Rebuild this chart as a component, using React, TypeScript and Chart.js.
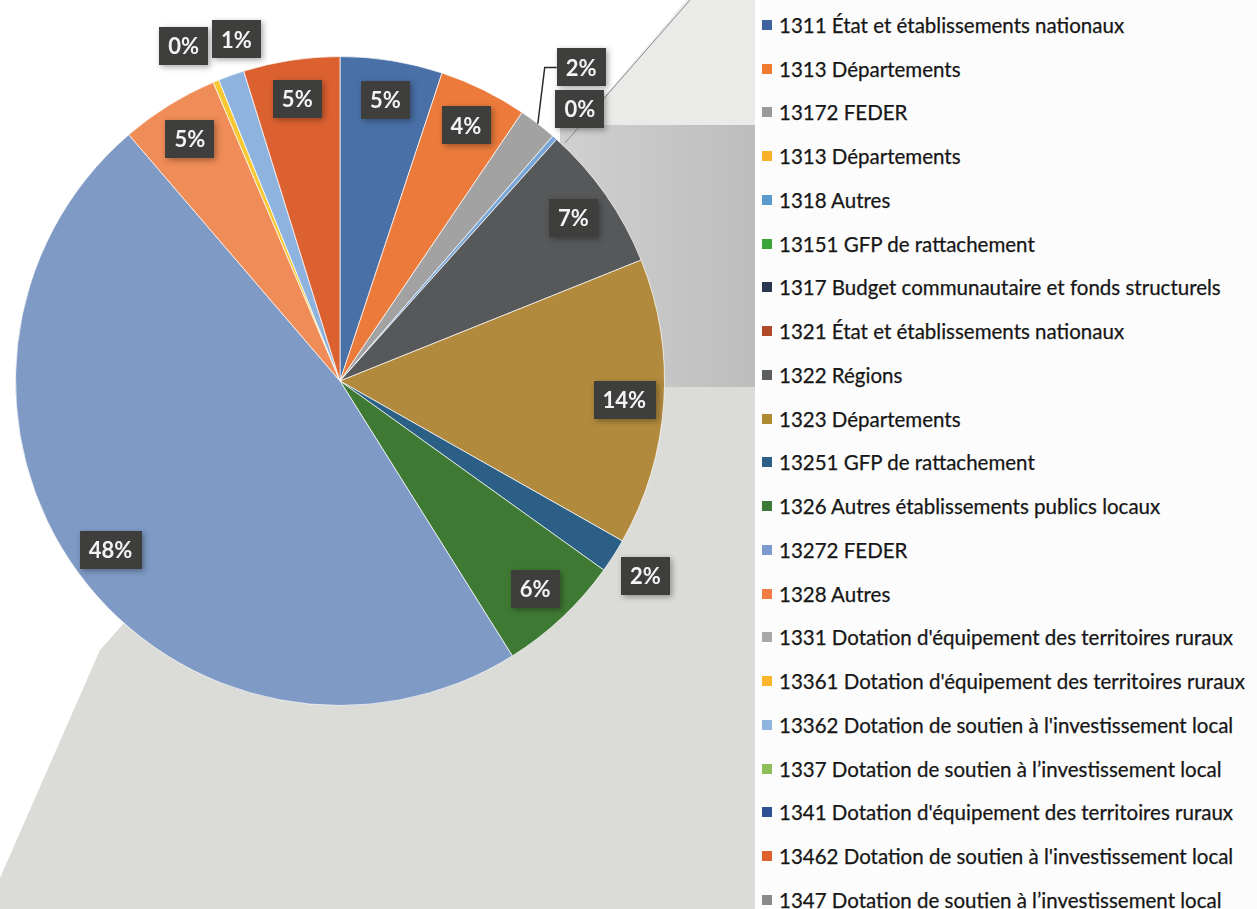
import React, { useEffect, useRef } from "react";
import { Chart, registerables } from "chart.js";

Chart.register(...registerables);

// ---- Data ----
const categories: string[] = [
  "1311 État et établissements nationaux",
  "1313 Départements",
  "13172 FEDER",
  "1313 Départements",
  "1318 Autres",
  "13151 GFP de rattachement",
  "1317 Budget communautaire et fonds structurels",
  "1321 État et établissements nationaux",
  "1322 Régions",
  "1323 Départements",
  "13251 GFP de rattachement",
  "1326 Autres établissements publics locaux",
  "13272 FEDER",
  "1328 Autres",
  "1331 Dotation d'équipement des territoires ruraux",
  "13361 Dotation d'équipement des territoires ruraux",
  "13362 Dotation de soutien à l'investissement local",
  "1337 Dotation de soutien à l’investissement local",
  "1341 Dotation d'équipement des territoires ruraux",
  "13462 Dotation de soutien à l'investissement local",
  "1347 Dotation de soutien à l’investissement local",
];

// Share of each account (percent of total)
const shares: number[] = [
  5.1, 4.4, 1.9, 0, 0.25, 0, 0, 0, 7.3, 14.3, 1.7, 6.2, 47.7, 4.9, 0, 0.3, 1.3, 0, 0, 4.8, 0,
];

const sliceColors: string[] = [
  "#4a70a8", "#ec7b3b", "#a2a2a2", "#f6b800", "#79a6d6", "#5aa33f", "#2c3d5e",
  "#a84c22", "#56585a", "#b28a3d", "#2b5f86", "#3f7a34", "#7f9bc5", "#f08c57",
  "#b7b7b7", "#f8c832", "#8fb3df", "#8cbf64", "#34589e", "#dc6131", "#7c7c7c",
];

const legendColors: string[] = [
  "#3f63a0", "#f07a30", "#9a9a9a", "#f9b02a", "#5a9bd0", "#3aa63a", "#2b3652",
  "#b04a28", "#5b5e5e", "#b08a30", "#2c5f85", "#3d7a3a", "#7c9ad0", "#f27d44",
  "#a8a8a8", "#fbb52a", "#8fb4e0", "#8cbf5a", "#2f4f96", "#e0612c", "#8a8a8a",
];

const LABEL_FONT = "bold 22px Lato, 'Open Sans', sans-serif";

const backgroundPlugin = {
  id: "paperBackground",
  beforeDraw(chart: any) {
    const { ctx, width, height } = chart;
    ctx.save();
    ctx.fillStyle = "#ffffff";
    ctx.fillRect(0, 0, width, height);
    // scanned paper shadow behind the pie
    ctx.fillStyle = "#dbdbd8";
    ctx.beginPath();
    ctx.moveTo(687, 0);
    ctx.lineTo(755, 0);
    ctx.lineTo(755, height);
    ctx.lineTo(0, height);
    ctx.lineTo(0, 878);
    ctx.lineTo(100, 650);
    ctx.lineTo(340, 380);
    ctx.lineTo(565, 143);
    ctx.closePath();
    ctx.fill();
    ctx.fillStyle = "#eaeae9";
    ctx.beginPath();
    ctx.moveTo(687, 0);
    ctx.lineTo(755, 0);
    ctx.lineTo(755, 125);
    ctx.lineTo(580, 125);
    ctx.closePath();
    ctx.fill();
    const g = ctx.createLinearGradient(560, 0, 755, 0);
    g.addColorStop(0, "#d0d0d0");
    g.addColorStop(1, "#bdbdbd");
    ctx.fillStyle = g;
    ctx.fillRect(560, 125, 195, 262);
    ctx.strokeStyle = "#8a8a8a";
    ctx.lineWidth = 1;
    ctx.beginPath();
    ctx.moveTo(690, 0);
    ctx.lineTo(565, 143);
    ctx.stroke();
    ctx.restore();
  },
};

const labelPlugin = {
  id: "boxLabels",
  afterDatasetsDraw(chart: any) {
    const { ctx } = chart;
    const meta = chart.getDatasetMeta(0);
    const data: number[] = chart.data.datasets[0].data;
    const total = data.reduce((a, b) => a + b, 0);
    ctx.save();
    ctx.font = LABEL_FONT;
    const H = 38;
    const items: any[] = [];
    meta.data.forEach((arc: any, i: number) => {
      const v = data[i];
      if (!v) return;
      const p = arc.getProps(["x", "y", "startAngle", "endAngle", "outerRadius"], true);
      const mid = (p.startAngle + p.endAngle) / 2;
      const pct = v / total;
      const text = Math.round(pct * 100) + "%";
      const inside = pct >= 0.03;
      const r = inside ? p.outerRadius * 0.878 : p.outerRadius + 38;
      const w = ctx.measureText(text).width + 18;
      items.push({
        text, mid, r, inside, w, h: H, pushed: false,
        ox: p.x, oy: p.y, R: p.outerRadius,
        cx: p.x + Math.cos(mid) * r, cy: p.y + Math.sin(mid) * r,
      });
    });
    const overlap = (a: any, b: any) =>
      Math.abs(a.cx - b.cx) < (a.w + b.w) / 2 + 3 && Math.abs(a.cy - b.cy) < (a.h + b.h) / 2 + 3;
    const outs = items.filter((it) => !it.inside);
    for (let k = 0; k < outs.length; k++) {
      for (let m = k + 1; m < outs.length; m++) {
        const a = outs[k], b = outs[m];
        if (!overlap(a, b)) continue;
        if (Math.abs(Math.sin(a.mid)) > 0.85) {
          const need = (a.w + b.w) / 2 + 4 - Math.abs(a.cx - b.cx);
          const left = a.cx <= b.cx ? a : b;
          const right = left === a ? b : a;
          left.cx -= need / 2;
          right.cx += need / 2;
        } else {
          let guard = 0;
          while (overlap(a, b) && guard++ < 200) {
            a.r += 1;
            a.cx = a.ox + Math.cos(a.mid) * a.r;
            a.cy = a.oy + Math.sin(a.mid) * a.r;
          }
          a.pushed = true;
        }
      }
    }
    items.forEach((it) => {
      if (it.pushed) {
        const ax = it.ox + Math.cos(it.mid) * it.R;
        const ay = it.oy + Math.sin(it.mid) * it.R;
        const bx = it.cx - it.w / 2;
        ctx.strokeStyle = "#2a2a2a";
        ctx.lineWidth = 1.5;
        ctx.beginPath();
        ctx.moveTo(ax, ay);
        ctx.lineTo(bx - 12, it.cy);
        ctx.lineTo(bx, it.cy);
        ctx.stroke();
      }
    });
    items.forEach((it) => {
      ctx.save();
      ctx.shadowColor = "rgba(0,0,0,0.35)";
      ctx.shadowBlur = 6;
      ctx.shadowOffsetX = 2;
      ctx.shadowOffsetY = 2;
      ctx.fillStyle = "#3e3e3c";
      ctx.fillRect(Math.round(it.cx - it.w / 2), Math.round(it.cy - it.h / 2), Math.round(it.w), it.h);
      ctx.restore();
      ctx.fillStyle = "#f4f4f4";
      ctx.textAlign = "center";
      ctx.textBaseline = "middle";
      ctx.fillText(it.text, it.cx, it.cy + 1);
    });
    ctx.restore();
  },
};

export default function App() {
  const canvasRef = useRef<HTMLCanvasElement | null>(null);

  useEffect(() => {
    if (!canvasRef.current) return;
    const chart = new Chart(canvasRef.current, {
      type: "pie",
      data: {
        labels: categories,
        datasets: [
          {
            data: shares,
            backgroundColor: sliceColors,
            borderColor: "rgba(255,255,255,0.7)",
            borderWidth: (c: any) => (shares[c.dataIndex] > 0 ? 1 : 0),
          },
        ],
      },
      options: {
        responsive: false,
        maintainAspectRatio: false,
        animation: false,
        layout: { padding: { left: 15, top: 56, right: 95, bottom: 203 } },
        plugins: {
          legend: { display: false },
          tooltip: { enabled: false },
        },
      },
      plugins: [backgroundPlugin, labelPlugin],
    });
    return () => chart.destroy();
  }, []);

  return (
    <div
      style={{
        position: "fixed",
        left: 0,
        top: 0,
        width: 1257,
        height: 909,
        background: "#fcfcfc",
        overflow: "hidden",
      }}
    >
      <canvas
        ref={canvasRef}
        width={760}
        height={909}
        style={{ position: "absolute", left: 0, top: 0, width: 760, height: 909 }}
      />
      <div
        style={{
          position: "absolute",
          left: 762,
          top: 3,
          fontFamily: "Lato, 'Open Sans', sans-serif",
          fontSize: 20.5,
          color: "#161616",
          WebkitTextStroke: "0.25px #161616",
        }}
      >
        {categories.map((c, i) => (
          <div
            key={i}
            style={{ height: 43.75, display: "flex", alignItems: "center", whiteSpace: "nowrap" }}
          >
            <span
              style={{
                display: "inline-block",
                width: 10,
                height: 10,
                background: legendColors[i],
                marginRight: 7,
              }}
            />
            <span>{c}</span>
          </div>
        ))}
      </div>
    </div>
  );
}
